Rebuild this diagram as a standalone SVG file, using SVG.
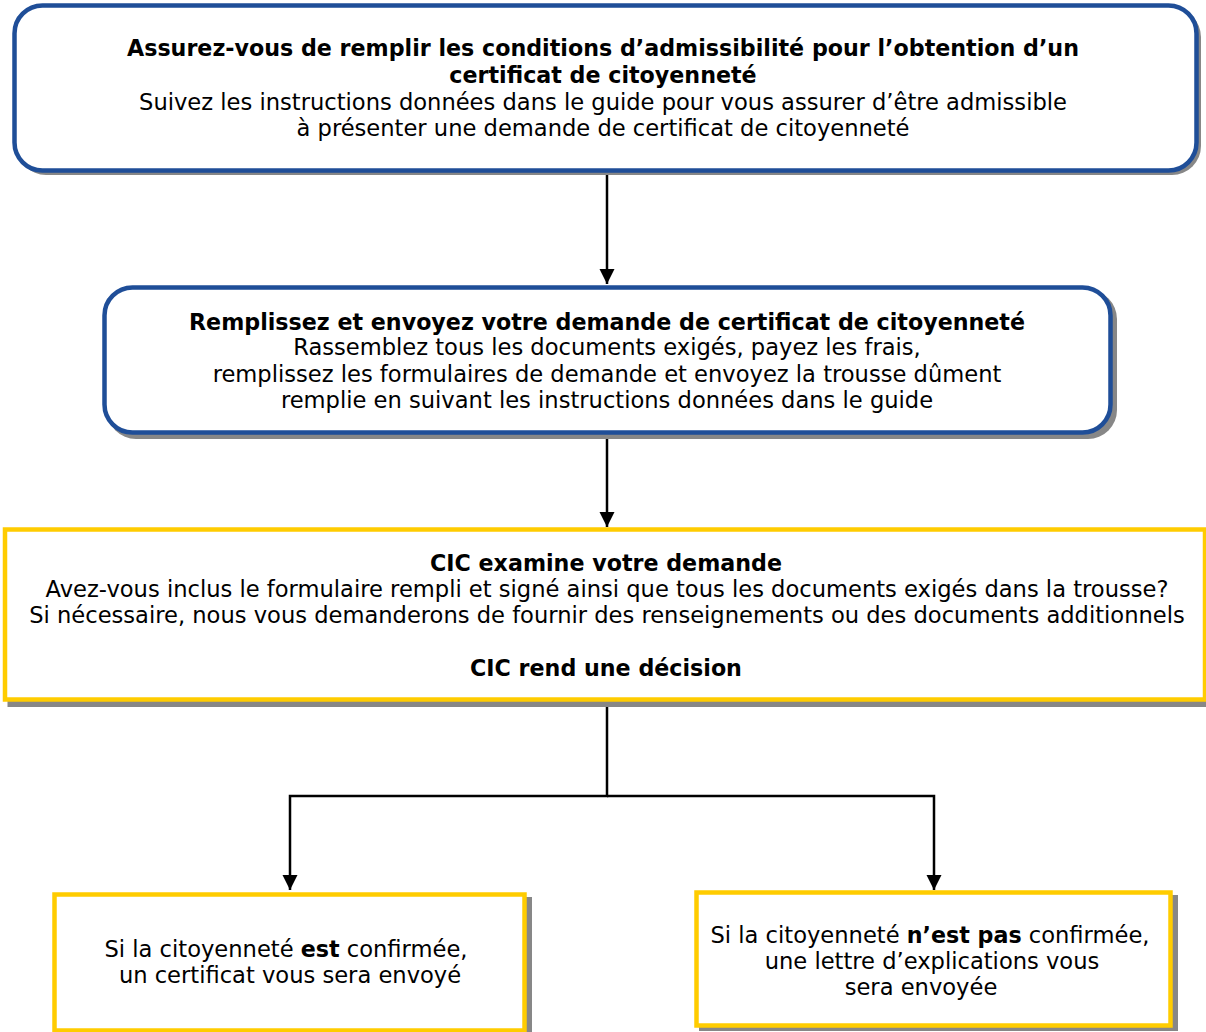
<svg xmlns="http://www.w3.org/2000/svg" width="1206" height="1032" viewBox="0 0 1206 1032">
<defs>
<style>
.shadow{fill:#878787;stroke:none}
.rbox{fill:#fff;stroke:#1F4E98;stroke-width:4.5}
.ybox{fill:#fff;stroke:#FFCC00;stroke-width:4.5}
text{font-family:"DejaVu Sans","Verdana",sans-serif;font-size:22.6px;fill:#000;text-anchor:middle}
.b{font-weight:bold;font-size:22.2px}
.conn{fill:none;stroke:#000;stroke-width:2.5}
</style>
<marker id="arr" markerUnits="userSpaceOnUse" markerWidth="16" markerHeight="16" viewBox="0 0 16 16" refX="15" refY="8" orient="auto">
<path d="M0,0.5 L15,8 L0,15.5 Z" fill="#000"/>
</marker>
</defs>
<rect width="1206" height="1032" fill="#fff"/>
<g id="connectors">
<path class="conn" d="M607,172 V284" marker-end="url(#arr)"/>
<path class="conn" d="M607,436 V527" marker-end="url(#arr)"/>
<path class="conn" d="M607,702 V796 H290 V890" marker-end="url(#arr)"/>
<path class="conn" d="M607,796 H934 V890" marker-end="url(#arr)"/>
</g>
<g id="node1">
<rect class="shadow" x="17" y="8" width="1184" height="167" rx="29"/>
<rect class="rbox" x="14.5" y="5.5" width="1182" height="165" rx="28"/>
<text class="b" x="603" y="56">Assurez-vous de remplir les conditions d’admissibilité pour l’obtention d’un</text>
<text class="b" x="603" y="83">certificat de citoyenneté</text>
<text x="603" y="110">Suivez les instructions données dans le guide pour vous assurer d’être admissible</text>
<text x="603" y="136">à présenter une demande de certificat de citoyenneté</text>
</g>
<g id="node2">
<rect class="shadow" x="107" y="290" width="1010" height="149" rx="29"/>
<rect class="rbox" x="104.5" y="287.5" width="1006" height="145" rx="28"/>
<text class="b" x="607" y="330">Remplissez et envoyez votre demande de certificat de citoyenneté</text>
<text x="607" y="355">Rassemblez tous les documents exigés, payez les frais,</text>
<text x="607" y="382">remplissez les formulaires de demande et envoyez la trousse dûment</text>
<text x="607" y="408">remplie en suivant les instructions données dans le guide</text>
</g>
<g id="node3">
<rect class="shadow" x="7.5" y="532" width="1205" height="175"/>
<rect class="ybox" x="5" y="529.5" width="1200" height="170"/>
<text class="b" x="606" y="571">CIC examine votre demande</text>
<text x="607" y="597">Avez-vous inclus le formulaire rempli et signé ainsi que tous les documents exigés dans la trousse?</text>
<text x="607" y="623">Si nécessaire, nous vous demanderons de fournir des renseignements ou des documents additionnels</text>
<text class="b" x="606" y="676">CIC rend une décision</text>
</g>
<g id="node4">
<rect class="shadow" x="57" y="897" width="475" height="140"/>
<rect class="ybox" x="54.5" y="894.5" width="470" height="136"/>
<text x="286" y="957">Si la citoyenneté <tspan class="b">est</tspan> confirmée,</text>
<text x="290" y="983"> un certificat vous sera envoyé</text>
</g>
<g id="node5">
<rect class="shadow" x="699" y="895" width="479" height="136"/>
<rect class="ybox" x="696.5" y="892.5" width="474" height="133"/>
<text x="930" y="943">Si la citoyenneté <tspan class="b">n’est pas</tspan> confirmée,</text>
<text x="932" y="969">une lettre d’explications vous</text>
<text x="921" y="995">sera envoyée</text>
</g>
</svg>
